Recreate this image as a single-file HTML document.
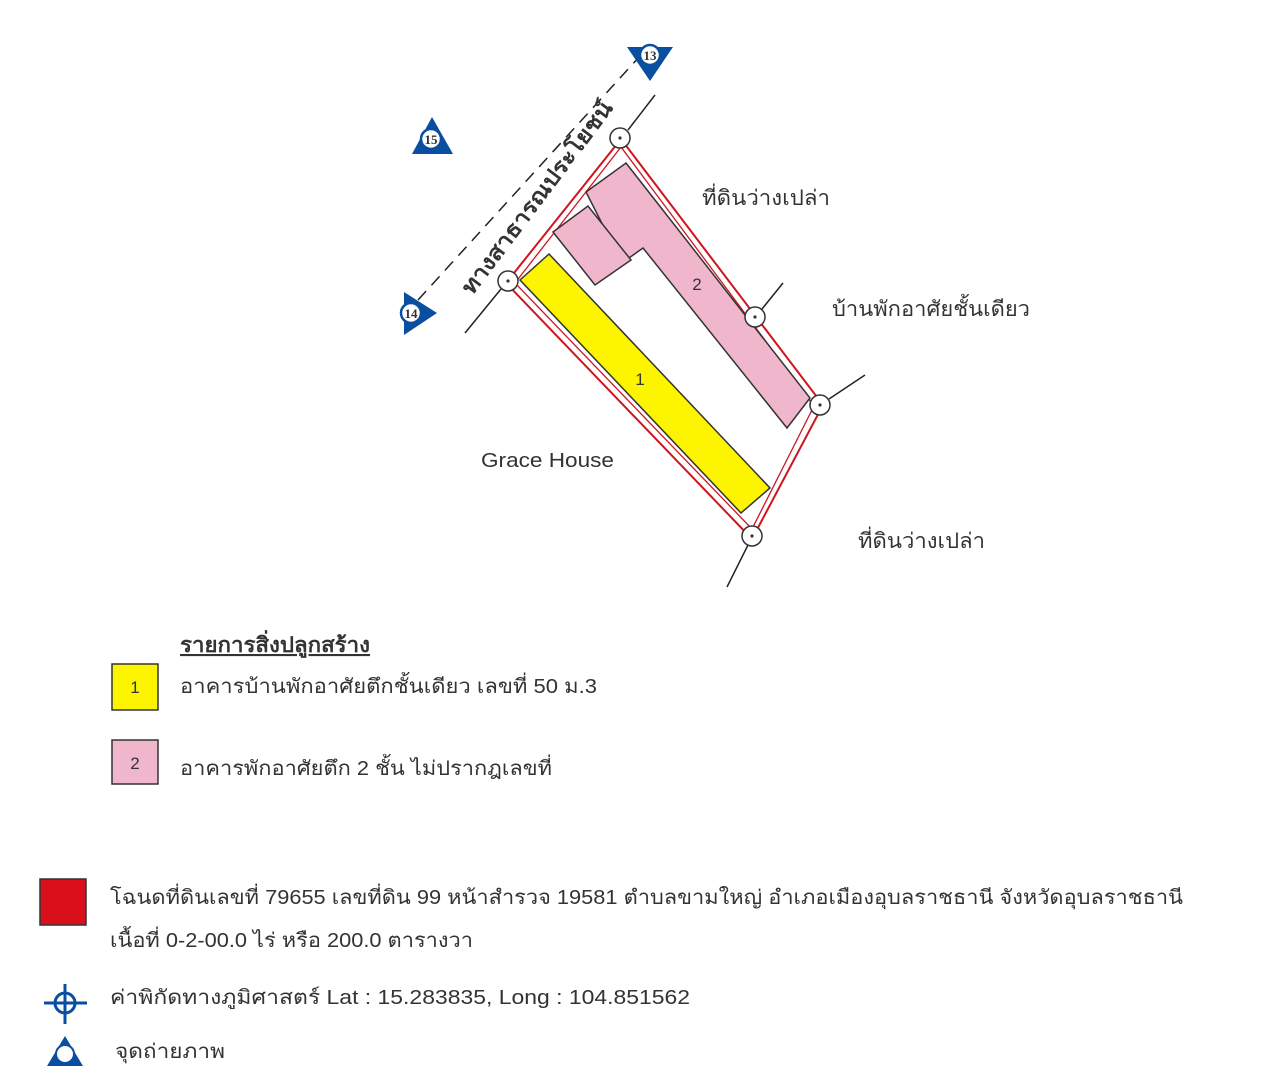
<!DOCTYPE html>
<html><head><meta charset="utf-8"><style>
html,body{margin:0;padding:0;background:#fff;}
svg{display:block;}
text{font-family:"Liberation Sans","DejaVu Sans","Noto Sans CJK SC",sans-serif;fill:#333;}
</style></head><body>
<svg width="1280" height="1077" viewBox="0 0 1280 1077" xmlns="http://www.w3.org/2000/svg">
<rect width="1280" height="1077" fill="#fff"/>
<line x1="418" y1="300" x2="640" y2="56" stroke="#222" stroke-width="1.5" stroke-dasharray="12,8"/>
<line x1="655" y1="95" x2="628" y2="130" stroke="#222" stroke-width="1.5"/>
<line x1="501" y1="289" x2="465" y2="333" stroke="#222" stroke-width="1.5"/>
<line x1="762" y1="309" x2="783" y2="283" stroke="#222" stroke-width="1.5"/>
<line x1="829" y1="399" x2="865" y2="375" stroke="#222" stroke-width="1.5"/>
<line x1="748" y1="545" x2="727" y2="587" stroke="#222" stroke-width="1.5"/>
<!-- red boundary double -->
<polygon points="621,139 506,283 752,539 823,405" fill="none" stroke="#d0141e" stroke-width="2"/>
<polygon points="621,147 515,283 752,529 814,406" fill="none" stroke="#d0141e" stroke-width="1.3"/>
<!-- pink buildings -->
<polygon points="586,192 626,163 810,398 787,428 643,248 622,263" fill="#f0b6cc" stroke="#333" stroke-width="1.5"/>
<polygon points="553,232 588,206 631,260 595,285" fill="#f0b6cc" stroke="#333" stroke-width="1.5"/>
<polygon points="520,280 549,254 770,488 741,513" fill="#fdf500" stroke="#333" stroke-width="1.5"/>
<text x="640" y="385" font-size="17" fill="#555" text-anchor="middle">1</text>
<text x="697" y="290" font-size="17" fill="#555" text-anchor="middle">2</text>
<g fill="#fff" stroke="#333" stroke-width="1.5">
<circle cx="620" cy="138" r="10"/><circle cx="508" cy="281" r="10"/>
<circle cx="755" cy="317" r="10"/><circle cx="820" cy="405" r="10"/>
<circle cx="752" cy="536" r="10"/>
</g>
<g fill="#333">
<circle cx="620" cy="138" r="1.6"/><circle cx="508" cy="281" r="1.6"/>
<circle cx="755" cy="317" r="1.6"/><circle cx="820" cy="405" r="1.6"/>
<circle cx="752" cy="536" r="1.6"/>
</g>
<text x="543" y="202" font-size="22" font-weight="bold" fill="#222" text-anchor="middle" textLength="235" lengthAdjust="spacingAndGlyphs" transform="rotate(-53 543 202)">ทางสาธารณประโยชน์</text>
<g>
<polygon points="627,47 673,47 650,81" fill="#0a4ea0"/>
<circle cx="650" cy="55" r="10" fill="#fff" stroke="#0a4ea0" stroke-width="2.5"/>
<text x="650" y="60" font-size="13" font-weight="bold" fill="#111" text-anchor="middle" style="font-family:'Liberation Serif',serif">13</text>
<polygon points="432,117 453,154 412,154" fill="#0a4ea0"/>
<circle cx="431" cy="139" r="10" fill="#fff" stroke="#0a4ea0" stroke-width="2.5"/>
<text x="431" y="144" font-size="13" font-weight="bold" fill="#111" text-anchor="middle" style="font-family:'Liberation Serif',serif">15</text>
<polygon points="404,292 437,313 404,335" fill="#0a4ea0"/>
<circle cx="411" cy="313" r="10" fill="#fff" stroke="#0a4ea0" stroke-width="2.5"/>
<text x="411" y="318" font-size="13" font-weight="bold" fill="#111" text-anchor="middle" style="font-family:'Liberation Serif',serif">14</text>
</g>
<text x="702" y="205" font-size="21" textLength="128" lengthAdjust="spacingAndGlyphs">ที่ดินว่างเปล่า</text>
<text x="832" y="316" font-size="21" textLength="198" lengthAdjust="spacingAndGlyphs">บ้านพักอาศัยชั้นเดียว</text>
<text x="481" y="467" font-size="20" fill="#555" textLength="133" lengthAdjust="spacingAndGlyphs">Grace House</text>
<text x="858" y="548" font-size="21" textLength="127" lengthAdjust="spacingAndGlyphs">ที่ดินว่างเปล่า</text>
<text x="180" y="652" font-size="21" font-weight="bold" text-decoration="underline" textLength="190" lengthAdjust="spacingAndGlyphs">รายการสิ่งปลูกสร้าง</text>
<rect x="112" y="664" width="46" height="46" fill="#fdf500" stroke="#333" stroke-width="1.5"/>
<text x="135" y="693" font-size="17" fill="#555" text-anchor="middle">1</text>
<text x="180" y="693" font-size="20" textLength="417" lengthAdjust="spacingAndGlyphs">อาคารบ้านพักอาศัยตึกชั้นเดียว เลขที่ 50 ม.3</text>
<rect x="112" y="740" width="46" height="44" fill="#f0b6cc" stroke="#333" stroke-width="1.5"/>
<text x="135" y="769" font-size="17" fill="#555" text-anchor="middle">2</text>
<text x="180" y="775" font-size="20" textLength="372" lengthAdjust="spacingAndGlyphs">อาคารพักอาศัยตึก 2 ชั้น ไม่ปรากฎเลขที่</text>
<rect x="40" y="879" width="46" height="46" fill="#d90f1c" stroke="#333" stroke-width="1.5"/>
<text x="110" y="904" font-size="20" textLength="1073" lengthAdjust="spacingAndGlyphs">โฉนดที่ดินเลขที่ 79655 เลขที่ดิน 99 หน้าสำรวจ 19581 ตำบลขามใหญ่ อำเภอเมืองอุบลราชธานี จังหวัดอุบลราชธานี</text>
<text x="110" y="947" font-size="20" textLength="363" lengthAdjust="spacingAndGlyphs">เนื้อที่ 0-2-00.0 ไร่ หรือ 200.0 ตารางวา</text>
<g stroke="#0a4ea0" stroke-width="3" fill="none">
<circle cx="65" cy="1003" r="10"/>
<line x1="44" y1="1003" x2="87" y2="1003"/>
<line x1="65" y1="984" x2="65" y2="1024"/>
</g>
<text x="110" y="1004" font-size="20" textLength="580" lengthAdjust="spacingAndGlyphs">ค่าพิกัดทางภูมิศาสตร์ Lat : 15.283835,  Long :  104.851562</text>
<polygon points="65,1036 83,1066 47,1066" fill="#0a4ea0"/>
<circle cx="65" cy="1054" r="9" fill="#fff" stroke="#0a4ea0" stroke-width="2"/>
<text x="115" y="1058" font-size="20" textLength="110" lengthAdjust="spacingAndGlyphs">จุดถ่ายภาพ</text>
</svg>
</body></html>
